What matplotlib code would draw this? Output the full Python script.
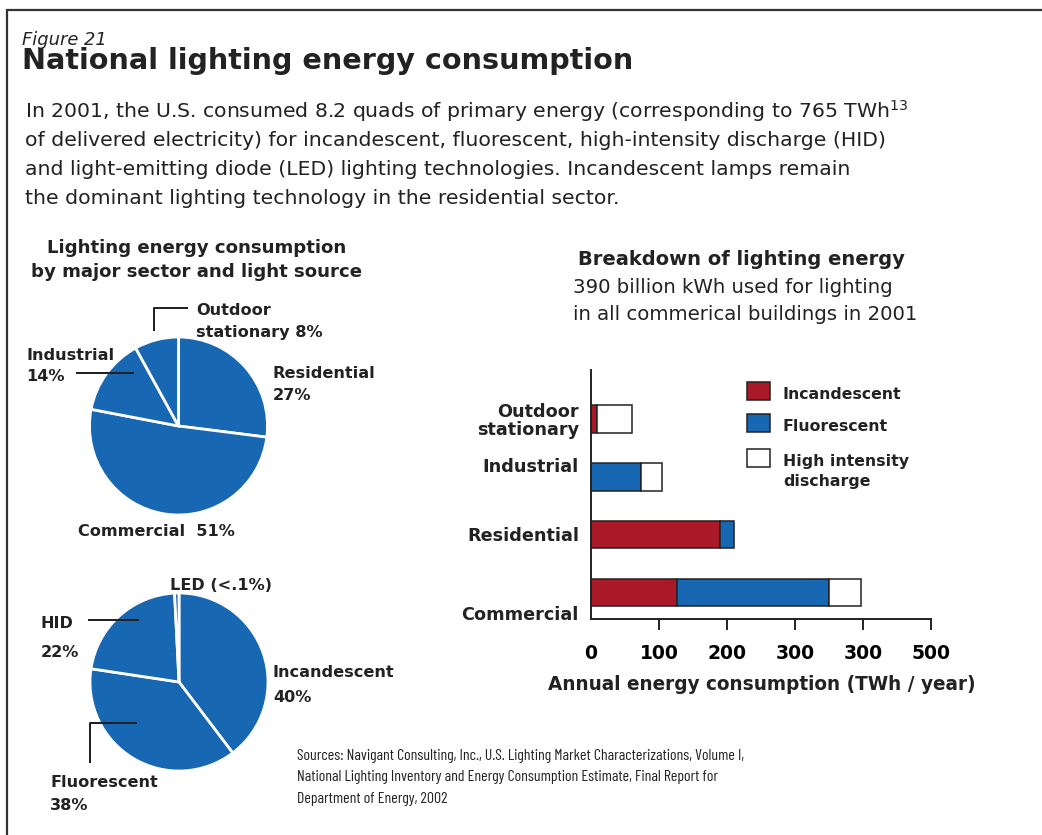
import matplotlib.pyplot as plt
from matplotlib import font_manager
from matplotlib.lines import Line2D
from matplotlib.patches import Rectangle
import matplotlib.transforms as mtransforms
import numpy as np

# --- data ---
sector_names = ['Residential', 'Commercial', 'Industrial', 'Outdoor']
sector_share = [27, 51, 14, 8]

source_names = ['Incandescent', 'Fluorescent', 'HID', 'LED']
source_share = [40, 38, 22, 0.8]

bar_cats = ['Commercial', 'Residential', 'Industrial', 'Outdoor\nstationary']
incandescent = [127, 189, 0, 9]
fluorescent = [223, 22, 74, 0]
hid = [47, 0, 31, 52]

xtick_vals = [0, 100, 200, 300, 400, 500]
xtick_labels = ['0', '100', '200', '300', '300', '500']

BLUE = '#1767b2'
RED = '#aa1928'
INK = '#222222'

names = {f.name for f in font_manager.fontManager.ttflist}
MAIN = 'DejaVu Sans'
NARROW = next((n for n in ['Barlow Condensed', 'Roboto Condensed', 'Liberation Sans Narrow',
                           'DejaVu Sans Condensed'] if n in names), MAIN)
plt.rcParams['font.family'] = [MAIN]
plt.rcParams['text.color'] = INK
plt.rcParams['mathtext.fontset'] = 'dejavusans'

W, H = 1042, 835
fig = plt.figure(figsize=(W / 100, H / 100), dpi=100)
R = fig.canvas.get_renderer()


def fx(x):
    return x / W


def fy(y):
    return 1 - y / H


def fit_size(s, width, base=14, **kw):
    # font size that gives the text the width (px) it has in the reference
    t = fig.text(0, 0, s, fontsize=base, **kw)
    w = t.get_window_extent(R).width
    t.remove()
    return base * width / w


def ftext(x, y, s, **kw):
    kw.setdefault('va', 'baseline')
    return fig.text(fx(x), fy(y), s, **kw)


def fline(xs, ys, lw=2):
    fig.add_artist(Line2D([fx(v) for v in xs], [fy(v) for v in ys],
                          color=INK, lw=lw * 0.72, transform=fig.transFigure))


BOLD = 'bold'

# frame
fig.add_artist(Line2D([fx(7), fx(7), 1], [0, fy(10), fy(10)], color='#333333',
                      lw=1.6, transform=fig.transFigure, solid_joinstyle='miter'))

# header
ftext(22, 45, 'Figure 21', style='italic',
      fontsize=fit_size('Figure 21', 85, style='italic'))
ftext(22, 69, 'National lighting energy consumption', weight=BOLD,
      fontsize=fit_size('National lighting energy consumption', 614, weight=BOLD))
body = ['In 2001, the U.S. consumed 8.2 quads of primary energy (corresponding to 765 TWh$^{13}$',
        'of delivered electricity) for incandescent, fluorescent, high-intensity discharge (HID)',
        'and light-emitting diode (LED) lighting technologies. Incandescent lamps remain',
        'the dominant lighting technology in the residential sector.']
body_fs = fit_size(body[1], 863)
for i, line in enumerate(body):
    ftext(25, 118 + i * 28.5, line, fontsize=body_fs)

# pie charts
def pie_axes(cx, cy, r):
    return fig.add_axes([fx(cx - r), fy(cy + r), 2 * r / W, 2 * r / H])


wp = dict(edgecolor='white', linewidth=2)
ax1 = pie_axes(178.5, 426, 89)
ax1.pie(sector_share, colors=[BLUE] * len(sector_share), startangle=90,
        counterclock=False, wedgeprops=wp)
ax1.set_xlim(-1, 1)
ax1.set_ylim(-1, 1)

ax2 = pie_axes(179, 682, 89)
ax2.pie(source_share, colors=[BLUE] * len(source_share), startangle=90,
        counterclock=False, wedgeprops=wp)
ax2.set_xlim(-1, 1)
ax2.set_ylim(-1, 1)

ptitle = dict(weight=BOLD, fontsize=fit_size('by major sector and light source', 333, weight=BOLD))
ftext(196.5, 253, 'Lighting energy consumption', ha='center', **ptitle)
ftext(196.5, 277, 'by major sector and light source', ha='center', **ptitle)

lbl = dict(weight=BOLD, fontsize=fit_size('Incandescent', 122, weight=BOLD))
ftext(196, 315, 'Outdoor', **lbl)
ftext(196, 337, f'stationary {sector_share[3]}%', **lbl)
fline([154, 154, 187], [330, 308, 308])
ftext(26, 360, 'Industrial', **lbl)
ftext(26, 381, f'{sector_share[2]}%', **lbl)
fline([77, 133], [373, 373])
ftext(273, 378, 'Residential', **lbl)
ftext(273, 400, f'{sector_share[0]}%', **lbl)
ftext(78, 536, f'Commercial  {sector_share[1]}%', **lbl)

ftext(170, 590, 'LED (<.1%)', **lbl)
ftext(41, 628, 'HID', **lbl)
ftext(41, 657, f'{source_share[2]}%', **lbl)
fline([89, 138], [620, 620])
ftext(273, 677, 'Incandescent', **lbl)
ftext(273, 702, f'{source_share[0]}%', **lbl)
ftext(50, 787, 'Fluorescent', **lbl)
ftext(50, 810, f'{source_share[1]}%', **lbl)
fline([136, 90, 90], [723, 723, 762])

# bar chart
ax3 = fig.add_axes([fx(591), fy(619), (931 - 591) / W, (619 - 370) / H])
ypos = np.arange(len(bar_cats))
inc = np.array(incandescent)
flu = np.array(fluorescent)
hi = np.array(hid)
bkw = dict(height=0.48, edgecolor=INK, linewidth=1.1)
for vals, left, col in [(inc, 0 * inc, RED), (flu, inc, BLUE), (hi, inc + flu, 'white')]:
    mask = vals > 0
    ax3.barh(ypos[mask], vals[mask], left=left[mask], color=col, **bkw)
ax3.set_xlim(0, 500)
ax3.set_ylim(-0.457, 3.84)
for s in ['top', 'right']:
    ax3.spines[s].set_visible(False)
for s in ['left', 'bottom']:
    ax3.spines[s].set_linewidth(1.4)
    ax3.spines[s].set_color(INK)
ax3.set_yticks([])
tick_fs = fit_size('100', 39, weight=BOLD)
ax3.set_xticks(xtick_vals, xtick_labels, fontsize=tick_fs, weight=BOLD)
ax3.tick_params(axis='x', direction='out', length=8, width=1.4, color=INK, pad=10)
ax3.xaxis.get_major_ticks()[0].tick1line.set_visible(False)

cat_fs = fit_size('Residential', 112, weight=BOLD)
label_y = [-0.39, 0.97, 2.16, 2.96]
trans = mtransforms.blended_transform_factory(ax3.transAxes, ax3.transData)
for cat, ly in zip(bar_cats, label_y):
    ax3.text(-12 / 340, ly, cat, transform=trans, ha='right', va='center',
             fontsize=cat_fs, weight=BOLD, linespacing=1.0)

# legend
leg_fs = fit_size('Incandescent', 119, weight=BOLD)
legend_items = [(['Incandescent'], RED), (['Fluorescent'], BLUE),
                (['High intensity', 'discharge'], 'white')]
legend_top = [382, 414, 449]
for (lines, col), top in zip(legend_items, legend_top):
    fig.add_artist(Rectangle((fx(747), fy(top + 17.5)), 23 / W, 17.5 / H,
                             facecolor=col, edgecolor=INK, lw=1.1,
                             transform=fig.transFigure))
    for j, line in enumerate(lines):
        ftext(783, top + 17 + j * 19.5, line, fontsize=leg_fs, weight=BOLD)

ftext(578, 265, 'Breakdown of lighting energy', weight=BOLD,
      fontsize=fit_size('Breakdown of lighting energy', 328, weight=BOLD))
sub_fs = fit_size('in all commerical buildings in 2001', 347)
ftext(573, 293, '390 billion kWh used for lighting', fontsize=sub_fs)
ftext(573, 320, 'in all commerical buildings in 2001', fontsize=sub_fs)
ftext(762, 690, 'Annual energy consumption (TWh / year)', ha='center', weight=BOLD,
      fontsize=fit_size('Annual energy consumption (TWh / year)', 430, weight=BOLD))

sources = ['Sources: Navigant Consulting, Inc., U.S. Lighting Market Characterizations, Volume I,',
           'National Lighting Inventory and Energy Consumption Estimate, Final Report for',
           'Department of Energy, 2002']
src_fs = fit_size(sources[0], 448, family=[NARROW])
for i, line in enumerate(sources):
    ftext(297, 760 + i * 21.5, line, fontsize=src_fs, family=[NARROW])

fig.savefig('out.png', dpi=100)
